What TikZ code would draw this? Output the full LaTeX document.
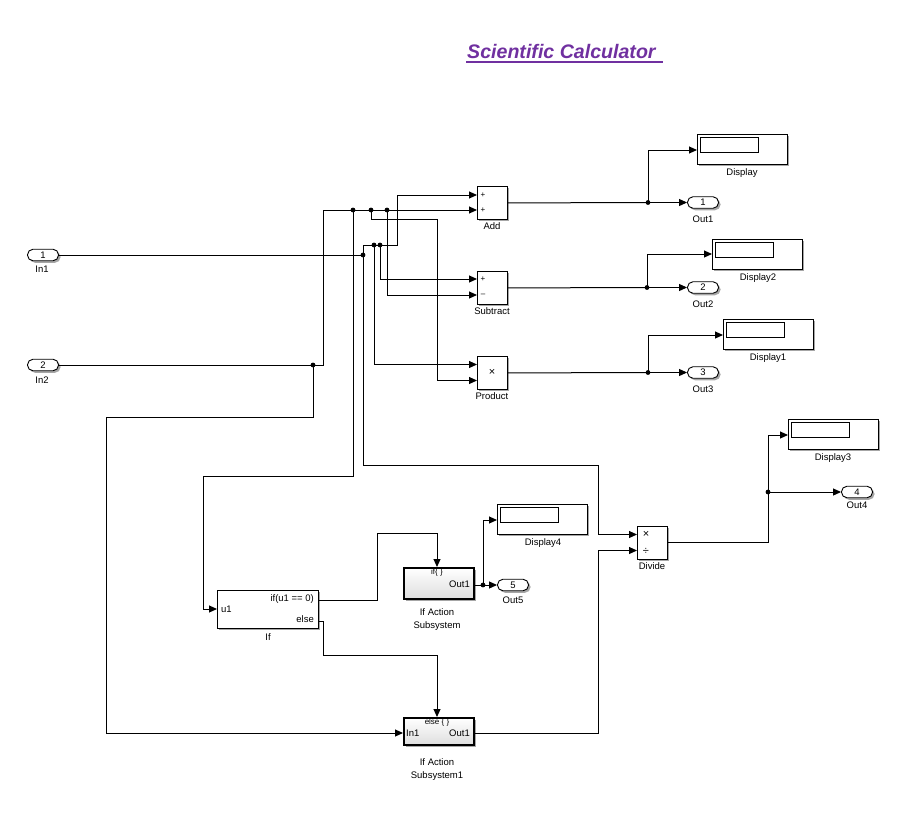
\documentclass[tikz,border=0pt]{standalone}
\usepackage{fontspec}
\setmainfont{Liberation Sans}
\usetikzlibrary{arrows.meta,shadows,calc}
\definecolor{titlepurple}{RGB}{112,48,160}
\begin{document}
\begin{tikzpicture}[x=1pt,y=-1pt,
  wire/.style={draw=black,line width=1pt},
  sig/.style={wire,-{Triangle[length=8pt,width=7pt]}},
  shad/.style={drop shadow={shadow xshift=2pt,shadow yshift=-2pt,fill=black,opacity=0.35}},
  blk/.style={draw=black,line width=0.9pt,fill=white,anchor=north west,inner sep=0,shad},
  sysblk/.style={draw=black,line width=2pt,top color=white,bottom color=black!13,anchor=north west,inner sep=0,shad},
  dispblk/.style={blk,minimum width=90pt,minimum height=30pt},
  jdot/.style={circle,fill=black,inner sep=0,minimum size=4.8pt},
  lbl/.style={font=\fontsize{9.5}{10}\selectfont,inner sep=0},
  tiny/.style={font=\fontsize{8}{9}\selectfont,inner sep=0},
  sym/.style={font=\fontsize{11}{11}\selectfont,inner sep=0},
  portblk/.style={draw=black,line width=0.9pt,fill=white,rounded corners=5.5pt,minimum width=31pt,minimum height=11.5pt,inner sep=0,font=\fontsize{9.5}{10}\selectfont,shad},
]
\useasboundingbox (0,0) rectangle (921,816);

% title
\node[anchor=base west,inner sep=0,text=titlepurple,font=\fontsize{19.6}{20}\selectfont\bfseries\itshape] (title) at (467,59) {Scientific Calculator};
\draw[titlepurple,line width=1.7pt] ($(title.base west)+(-1,3)$) -- ($(title.base east)+(7,3)$);

% inports
\node[portblk] (in1) at (43,255) {1};
\node[lbl] at (42,269) {In1};
\node[portblk] (in2) at (43,365) {2};
\node[lbl] at (42,380) {In2};

% math blocks
\node[blk,minimum width=30pt,minimum height=33pt] (add) at (477,186) {};
\node[lbl] at (492,226) {Add};
\node[tiny] at (483,195) {+};
\node[tiny] at (483,210) {+};
\node[blk,minimum width=30pt,minimum height=33pt] (sub) at (477,271) {};
\node[lbl] at (492,311) {Subtract};
\node[tiny] at (483,279) {+};
\node[tiny] at (483,295) {\textendash};
\node[blk,minimum width=30pt,minimum height=33pt] (prod) at (477,356) {};
\node[lbl] at (492,396) {Product};
\node[sym] at (492,372) {\char"00D7};
\node[blk,minimum width=30pt,minimum height=33pt] (div) at (637,526) {};
\node[lbl] at (652,566) {Divide};
\node[sym] at (646,534) {\char"00D7};
\node[sym] at (646,551) {\char"00F7};

% if block
\node[blk,minimum width=101pt,minimum height=38pt] (ifb) at (217,590) {};
\node[lbl] at (268,637) {If};
\node[lbl,anchor=west] at (221,609) {u1};
\node[lbl,anchor=east] at (314,599) {if(u1 == 0)};
\node[lbl,anchor=east] at (314,619) {else};

% action subsystems
\node[sysblk,minimum width=70pt,minimum height=31pt] (ias) at (403,567) {};
\node[tiny,anchor=north] at (437,568.5) {if\{ \}};
\node[lbl,anchor=east] at (470,584) {Out1};
\node[lbl] at (437,612) {If Action};
\node[lbl] at (437,626) {Subsystem};
\node[sysblk,minimum width=70pt,minimum height=27pt] (ias1) at (403,717) {};
\node[tiny,anchor=north] at (437,718.5) {else \{ \}};
\node[lbl,anchor=west] at (406,733) {In1};
\node[lbl,anchor=east] at (470,733) {Out1};
\node[lbl] at (437,762) {If Action};
\node[lbl] at (437,776) {Subsystem1};

% displays
\node[dispblk] (disp) at (697,134) {};
\draw[line width=0.9pt] ($(disp.north west)+(3,3)$) rectangle +(58,15);
\node[lbl] at (742,173) {Display};
\node[dispblk] (disp2) at (712,239) {};
\draw[line width=0.9pt] ($(disp2.north west)+(3,3)$) rectangle +(58,15);
\node[lbl] at (758,278) {Display2};
\node[dispblk] (disp1) at (723,319) {};
\draw[line width=0.9pt] ($(disp1.north west)+(3,3)$) rectangle +(58,15);
\node[lbl] at (768,358) {Display1};
\node[dispblk] (disp3) at (788,419) {};
\draw[line width=0.9pt] ($(disp3.north west)+(3,3)$) rectangle +(58,15);
\node[lbl] at (833,458) {Display3};
\node[dispblk] (disp4) at (497,504) {};
\draw[line width=0.9pt] ($(disp4.north west)+(3,3)$) rectangle +(58,15);
\node[lbl] at (543,543) {Display4};

% outports
\node[portblk] (out1) at (703,202.5) {1};
\node[lbl] at (703,219) {Out1};
\node[portblk] (out2) at (703,287.5) {2};
\node[lbl] at (703,304) {Out2};
\node[portblk] (out3) at (703,372.5) {3};
\node[lbl] at (703,389) {Out3};
\node[portblk] (out4) at (857,492) {4};
\node[lbl] at (857,505) {Out4};
\node[portblk] (out5) at (513,585) {5};
\node[lbl] at (513,600) {Out5};

% port coordinates
\coordinate (add-i1) at (477,195);
\coordinate (add-i2) at (477,210);
\coordinate (sub-i1) at (477,279);
\coordinate (sub-i2) at (477,295);
\coordinate (prod-i1) at (477,364.5);
\coordinate (prod-i2) at (477,380.5);
\coordinate (div-i1) at (637,534.5);
\coordinate (div-i2) at (637,550.5);
\coordinate (if-u1) at (217,609);
\coordinate (if-o1) at (318,600);
\coordinate (if-o2) at (318,621);
\coordinate (ias-top) at (437,567);
\coordinate (ias-out) at (473,585);
\coordinate (ias1-top) at (437,717);
\coordinate (ias1-in) at (403,733);
\coordinate (ias1-out) at (473,733);
\coordinate (disp-i) at (697,150);
\coordinate (disp2-i) at (712,254);
\coordinate (disp1-i) at (723,335);
\coordinate (disp3-i) at (788,435);
\coordinate (disp4-i) at (497,520);

% junctions
\node[jdot] (jA) at (313,365) {};
\node[jdot] (jB1) at (353,210) {};
\node[jdot] (jB2) at (371,210) {};
\node[jdot] (jB3) at (387,210) {};
\node[jdot] (jC) at (363,255) {};
\node[jdot] (jC1) at (374,245) {};
\node[jdot] (jC2) at (380,245) {};
\node[jdot] (jD1) at (648,202.5) {};
\node[jdot] (jD2) at (647,287.5) {};
\node[jdot] (jD3) at (648,372.5) {};
\node[jdot] (jD4) at (768,492) {};
\node[jdot] (jE) at (483,585) {};

% In1 signal
\draw[wire] (in1.east) -- (jC.center);
\draw[sig] (jC.center) -- (363,245) -- (397,245) |- (add-i1);
\draw[sig] (jC1.center) |- (prod-i1);
\draw[sig] (jC2.center) |- (sub-i1);
\draw[sig] (jC.center) |- (598,465) |- (div-i1);

% In2 signal
\draw[wire] (in2.east) -- (jA.center);
\draw[sig] (jA.center) -- (323,365) |- (add-i2);
\draw[sig] (jB1.center) |- (203,476) |- (if-u1);
\draw[sig] (jB2.center) |- (437,219) |- (prod-i2);
\draw[sig] (jB3.center) |- (sub-i2);
\draw[sig] (jA.center) |- (106,417) |- (ias1-in);

% outputs
\draw[wire] (add.east) -- (jD1.center);
\draw[sig] (jD1.center) -- (out1.west);
\draw[sig] (jD1.center) |- (disp-i);
\draw[wire] (sub.east) -- (jD2.center);
\draw[sig] (jD2.center) -- (out2.west);
\draw[sig] (jD2.center) |- (disp2-i);
\draw[wire] (prod.east) -- (jD3.center);
\draw[sig] (jD3.center) -- (out3.west);
\draw[sig] (jD3.center) |- (disp1-i);
\draw[wire] (div.east) -| (jD4.center);
\draw[sig] (jD4.center) -- (out4.west);
\draw[sig] (jD4.center) |- (disp3-i);

% if logic
\draw[sig] (if-o1) -- (377,600) |- (437,533) -- (ias-top);
\draw[sig] (if-o2) -- (323,621) |- (437,655) -- (ias1-top);
\draw[wire] (ias-out) -- (jE.center);
\draw[sig] (jE.center) -- (out5.west);
\draw[sig] (jE.center) |- (disp4-i);
\draw[sig] (ias1-out) -- (598,733) |- (div-i2);
\end{tikzpicture}
\end{document}
